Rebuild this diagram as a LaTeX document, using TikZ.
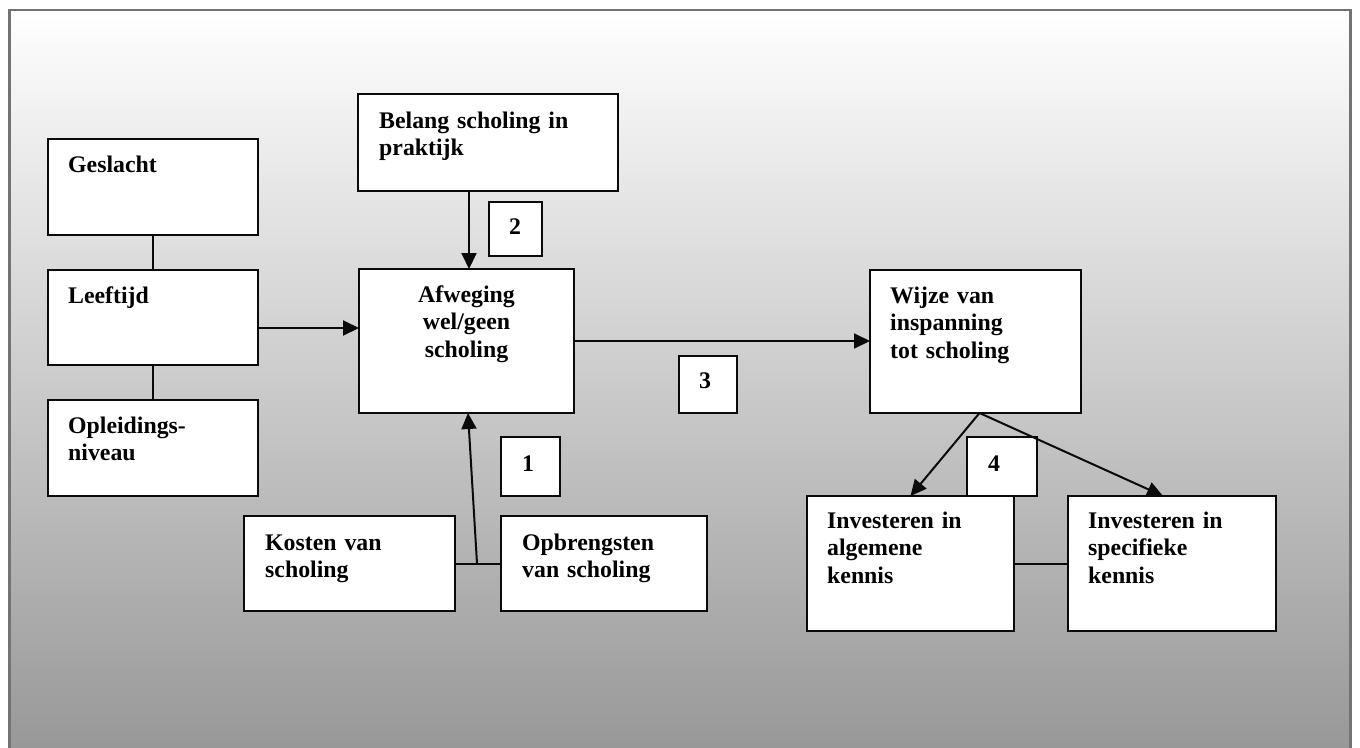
\documentclass[tikz,border=0pt]{standalone}
\usepackage{fontspec}
\setmainfont{Liberation Serif}
\usetikzlibrary{arrows.meta}
\definecolor{bgbot}{gray}{0.59}
\definecolor{framec}{gray}{0.45}
\definecolor{boxline}{gray}{0.04}
\tikzset{
  box/.style={draw=boxline, fill=white, line width=2pt, inner sep=0pt, outer sep=0pt},
  lbl/.style={anchor=base west, inner sep=0pt, align=left, text width=200pt,
    font=\fontsize{23.8}{27.5}\selectfont\bfseries},
  clbl/.style={anchor=base, inner sep=0pt, align=center, text width=200pt,
    font=\fontsize{23.8}{27.5}\selectfont\bfseries},
  conn/.style={line width=2pt, draw=boxline},
  arr/.style={conn, -{Triangle[length=16pt,width=15pt]}}
}
\begin{document}
\begin{tikzpicture}[x=1pt,y=-1pt]
\useasboundingbox (0,0) rectangle (1360,747);
\begin{scope}
\clip (0,0) rectangle (1360,747);
\shade[top color=white, bottom color=bgbot] (9.5,10) rectangle (1350.5,760);
\draw[framec, line width=2.7pt] (9.5,10) rectangle (1350.5,760);
\end{scope}
% boxes
\node[box, minimum width=210pt, minimum height=96pt] (g) at (153,187) {};
\node[box, minimum width=210pt, minimum height=95pt] (l) at (153,317.5) {};
\node[box, minimum width=210pt, minimum height=96pt] (o) at (153,448) {};
\node[box, minimum width=260pt, minimum height=97pt] (b) at (488,142.5) {};
\node[box, minimum width=215pt, minimum height=144pt] (a) at (466.5,341) {};
\node[box, minimum width=211pt, minimum height=143pt] (w) at (975.5,341.5) {};
\node[box, minimum width=211pt, minimum height=95pt] (k) at (349.5,563.5) {};
\node[box, minimum width=206pt, minimum height=95pt] (p) at (604,563.5) {};
\node[box, minimum width=207pt, minimum height=135pt] (al) at (910.5,563.5) {};
\node[box, minimum width=208pt, minimum height=135pt] (sp) at (1172,563.5) {};
\node[box, minimum width=53pt, minimum height=54pt] (n2) at (515.5,229) {};
\node[box, minimum width=58pt, minimum height=57pt] (n3) at (708,384.5) {};
\node[box, minimum width=59pt, minimum height=59pt] (n1) at (530.5,466.5) {};
\node[box, minimum width=70pt, minimum height=59pt] (n4) at (1002,466.5) {};
% texts
\node[lbl] (gt) at ([shift={(20,33)}]g.north west) {Geslacht};
\node[lbl] (lt) at ([shift={(20,33)}]l.north west) {Leeftijd};
\node[lbl] (ot) at ([shift={(20,33)}]o.north west) {Opleidings-\\niveau};
\node[lbl] (bt) at ([shift={(21,34)}]b.north west) {Belang scholing in\\praktijk};
\node[clbl] (at) at ([shift={(0,33)}]a.north) {Afweging\\wel/geen\\scholing};
\node[lbl] (wt) at ([shift={(20,33)}]w.north west) {Wijze van\\inspanning\\tot scholing};
\node[lbl] (kt) at ([shift={(21,34)}]k.north west) {Kosten van\\scholing};
\node[lbl] (pt) at ([shift={(21,34)}]p.north west) {Opbrengsten\\van scholing};
\node[lbl] (alt) at ([shift={(20,32)}]al.north west) {Investeren in\\algemene\\kennis};
\node[lbl] (spt) at ([shift={(20,32)}]sp.north west) {Investeren in\\specifieke\\kennis};
\node[lbl] (n2t) at ([shift={(20,32)}]n2.north west) {2};
\node[lbl] (n3t) at ([shift={(20,32)}]n3.north west) {3};
\node[lbl] (n1t) at ([shift={(21,34)}]n1.north west) {1};
\node[lbl] (n4t) at ([shift={(21,34)}]n4.north west) {4};
% connectors
\draw[conn] (g.south) -- (l.north);
\draw[conn] (l.south) -- (o.north);
\draw[arr] ([yshift=-10.5pt]l.east) -- ([yshift=-10.5pt]l.east -| a.west);
\draw[arr] ([xshift=-19pt]b.south) -- ([xshift=-19pt]b.south |- a.north);
\draw[arr] (a.east) -- (a.east -| w.west);
\draw[conn] (k.east) -- (p.west);
\coordinate (kj) at (477,563.5);
\draw[arr] (kj) -- ([xshift=1.5pt]a.south);
\draw[arr] ([xshift=4pt]w.south) -- (al.north);
\draw[arr] ([xshift=4pt]w.south) -- ([xshift=-9pt]sp.north);
\draw[conn] (al.east) -- (sp.west);
\end{tikzpicture}
\end{document}
